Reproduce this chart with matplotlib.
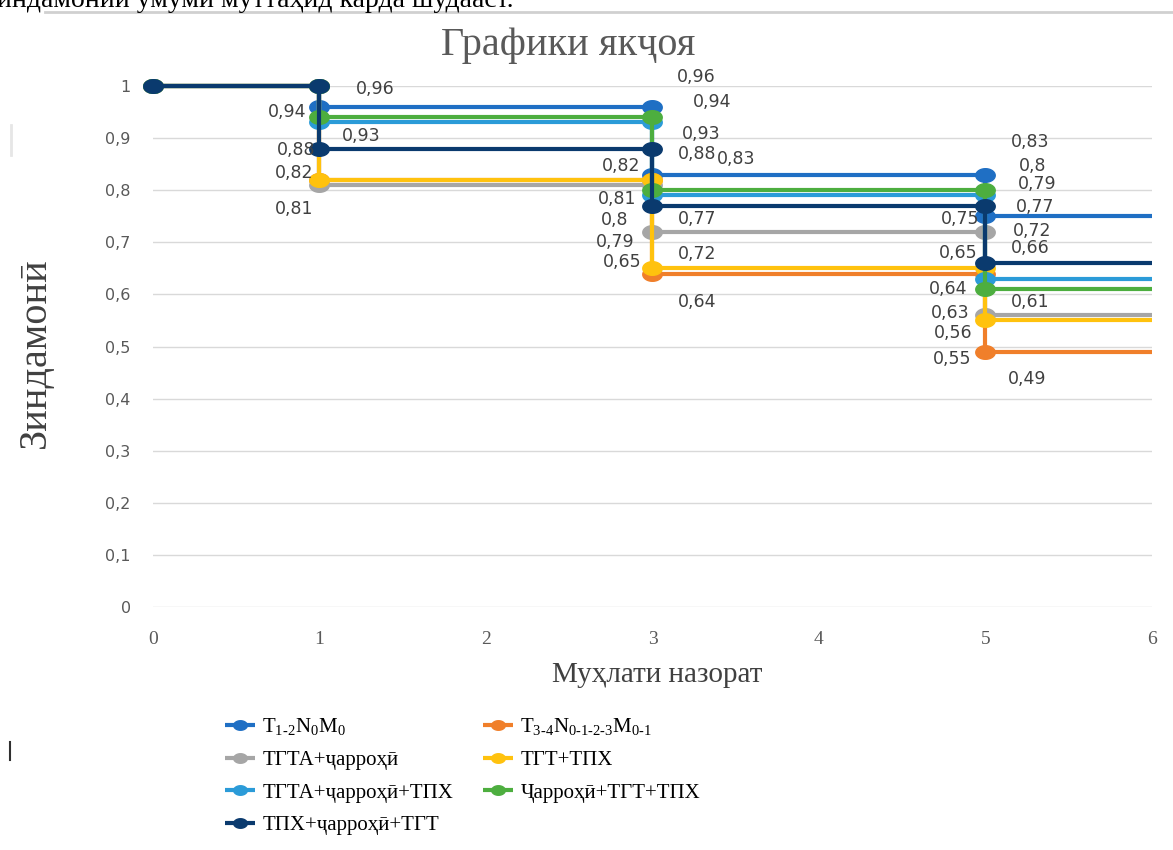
import matplotlib.pyplot as plt
import numpy as np
from matplotlib.lines import Line2D
from matplotlib.path import Path
from matplotlib.ticker import FuncFormatter

plt.rcParams["mathtext.fontset"] = "custom"
plt.rcParams["mathtext.rm"] = "Liberation Serif"

# --- data --------------------------------------------------------------
TIMES = [0, 1, 3, 5]
END_TIME = 6

SERIES_NAMES = [
    r"T$_{1\text{-}2}$N$_{0}$M$_{0}$",
    r"T$_{3\text{-}4}$N$_{0\text{-}1\text{-}2\text{-}3}$M$_{0\text{-}1}$",
    "ТГТА+ҷарроҳӣ",
    "ТГТ+ТПХ",
    "ТГТА+ҷарроҳӣ+ТПХ",
    "Ҷарроҳӣ+ТГТ+ТПХ",
    "ТПХ+ҷарроҳӣ+ТГТ",
]
SURV_T12 = [1.0, 0.96, 0.83, 0.75]
SURV_T34 = [1.0, 0.82, 0.64, 0.49]
SURV_TGTA_SURG = [1.0, 0.81, 0.72, 0.56]
SURV_TGT_TPX = [1.0, 0.82, 0.65, 0.55]
SURV_TGTA_SURG_TPX = [1.0, 0.93, 0.79, 0.63]
SURV_SURG_TGT_TPX = [1.0, 0.94, 0.80, 0.61]
SURV_TPX_SURG_TGT = [1.0, 0.88, 0.77, 0.66]
SERIES = [SURV_T12, SURV_T34, SURV_TGTA_SURG, SURV_TGT_TPX,
          SURV_TGTA_SURG_TPX, SURV_SURG_TGT_TPX, SURV_TPX_SURG_TGT]
COLORS = ["#1F6FC4", "#F07F2A", "#A6A6A6", "#FFC20E",
          "#2B9BD8", "#4DAE3F", "#0A3A6E"]

# data labels as Excel placed them (value, x, y)
LABEL_VALUES = [0.96, 0.94, 0.93, 0.88, 0.82, 0.81,
                0.96, 0.94, 0.93, 0.88, 0.83, 0.82, 0.81, 0.8, 0.77, 0.79, 0.72, 0.65, 0.64,
                0.83, 0.8, 0.79, 0.77, 0.75, 0.72, 0.66, 0.65, 0.64, 0.61, 0.63, 0.56, 0.55, 0.49]
LABEL_X = [1.333, 0.805, 1.249, 0.859, 0.847, 0.847,
           3.261, 3.357, 3.291, 3.267, 3.502, 2.811, 2.787, 2.775, 3.267, 2.775, 3.267, 2.817, 3.267,
           5.267, 5.285, 5.309, 5.297, 4.847, 5.279, 5.267, 4.835, 4.775, 5.267, 4.787, 4.805, 4.799, 5.249]
LABEL_Y = [0.994, 0.950, 0.904, 0.877, 0.833, 0.764,
           1.017, 0.969, 0.908, 0.869, 0.860, 0.846, 0.783, 0.743, 0.745, 0.701, 0.678, 0.662, 0.585,
           0.893, 0.846, 0.812, 0.768, 0.745, 0.722, 0.689, 0.679, 0.610, 0.585, 0.564, 0.526, 0.476, 0.438]

GRID, TICK_INK, LABEL_INK = "#D9D9D9", "#595959", "#404040"
SERIF = ["Liberation Serif", "DejaVu Serif"]


def step_points(values):
    """Excel-style step: duplicate x at each drop, hold last value to END_TIME."""
    xs, ys = [TIMES[0]], [values[0]]
    for t, prev, cur in zip(TIMES[1:], values[:-1], values[1:]):
        xs += [t, t]
        ys += [prev, cur]
    xs.append(END_TIME)
    ys.append(values[-1])
    return xs, ys


def comma(v, _pos=None):
    return f"{v:g}".replace(".", ",")


t = np.linspace(0, 2 * np.pi, 48)
oval = Path(np.column_stack([np.cos(t), 0.7 * np.sin(t)]), closed=True)

fig = plt.figure(figsize=(11.73, 8.5), dpi=100)
ax = fig.add_axes([0.1304, 0.2859, 0.8517, 0.6129])

handles = []
for name, vals, col in zip(SERIES_NAMES, SERIES, COLORS):
    xs, ys = step_points(vals)
    (ln,) = ax.plot(xs, ys, color=col, lw=3, marker=oval, markersize=14,
                    markevery=list(range(len(xs) - 1)), clip_on=False,
                    solid_capstyle="butt", label=name)
    handles.append(ln)

for v, x, y in zip(LABEL_VALUES, LABEL_X, LABEL_Y):
    ax.text(x, y, comma(v), ha="center", va="center", fontsize=12.5,
            color=LABEL_INK, family="DejaVu Sans", zorder=5)

ax.set_xlim(0, END_TIME)
ax.set_ylim(0, 1)
ax.set_yticks(np.arange(0, 1.01, 0.1))
ax.set_xticks(range(0, END_TIME + 1))
ax.yaxis.set_major_formatter(FuncFormatter(comma))
ax.tick_params(length=0)
ax.tick_params(axis="y", pad=16, labelsize=11.5, labelcolor=TICK_INK)
ax.tick_params(axis="x", pad=17, labelsize=14, labelcolor=TICK_INK)
for lab in ax.get_xticklabels():
    lab.set_family(SERIF)
ax.yaxis.grid(True, color=GRID, lw=1)
ax.set_axisbelow(True)
for s in ax.spines.values():
    s.set_visible(False)

ax.set_xlabel("Муҳлати назорат", fontsize=21, family=SERIF, color="#404040", va="center")
ax.xaxis.set_label_coords(0.5045, -0.1305)
ax.set_ylabel("Зиндамонӣ", fontsize=29, family=SERIF, color="#404040", va="center")
ax.yaxis.set_label_coords(-0.118, 0.489)

fig.text(568 / 1173, 1 - 45 / 850, "Графики якҷоя", ha="center", va="center",
         fontsize=29, family=SERIF, color="#595959")

# legend: row-major like Excel, done as two columns
leg_kw = dict(frameon=False, loc="upper left", borderpad=0, borderaxespad=0,
              handlelength=1.45, handletextpad=0.35, labelspacing=0.62,
              markerscale=0.7, prop={"family": SERIF, "size": 15})
left_col = [handles[i] for i in (0, 2, 4, 6)]
right_col = [handles[i] for i in (1, 3, 5)]
fig.legend(left_col, [h.get_label() for h in left_col],
           bbox_to_anchor=(225 / 1173, 1 - 716 / 850), **leg_kw)
fig.legend(right_col, [h.get_label() for h in right_col],
           bbox_to_anchor=(483 / 1173, 1 - 716 / 850), **leg_kw)

# page context around the pasted chart
fig.text(-14 / 1173, 1 - 7 / 850, "зиндамонии умумӣ муттаҳид карда шудааст.",
         ha="left", va="baseline", fontsize=20, family=SERIF, color="black")
fig.add_artist(Line2D([45 / 1173, 1.0], [1 - 12 / 850] * 2, color="#D0D0D0", lw=2))
fig.add_artist(Line2D([11 / 1173] * 2, [1 - 125 / 850, 1 - 155 / 850], color="#E6E6E6", lw=2))
fig.add_artist(Line2D([10 / 1173] * 2, [1 - 742 / 850, 1 - 760 / 850], color="#303030", lw=1.5))

fig.savefig("out.png", dpi=100)
